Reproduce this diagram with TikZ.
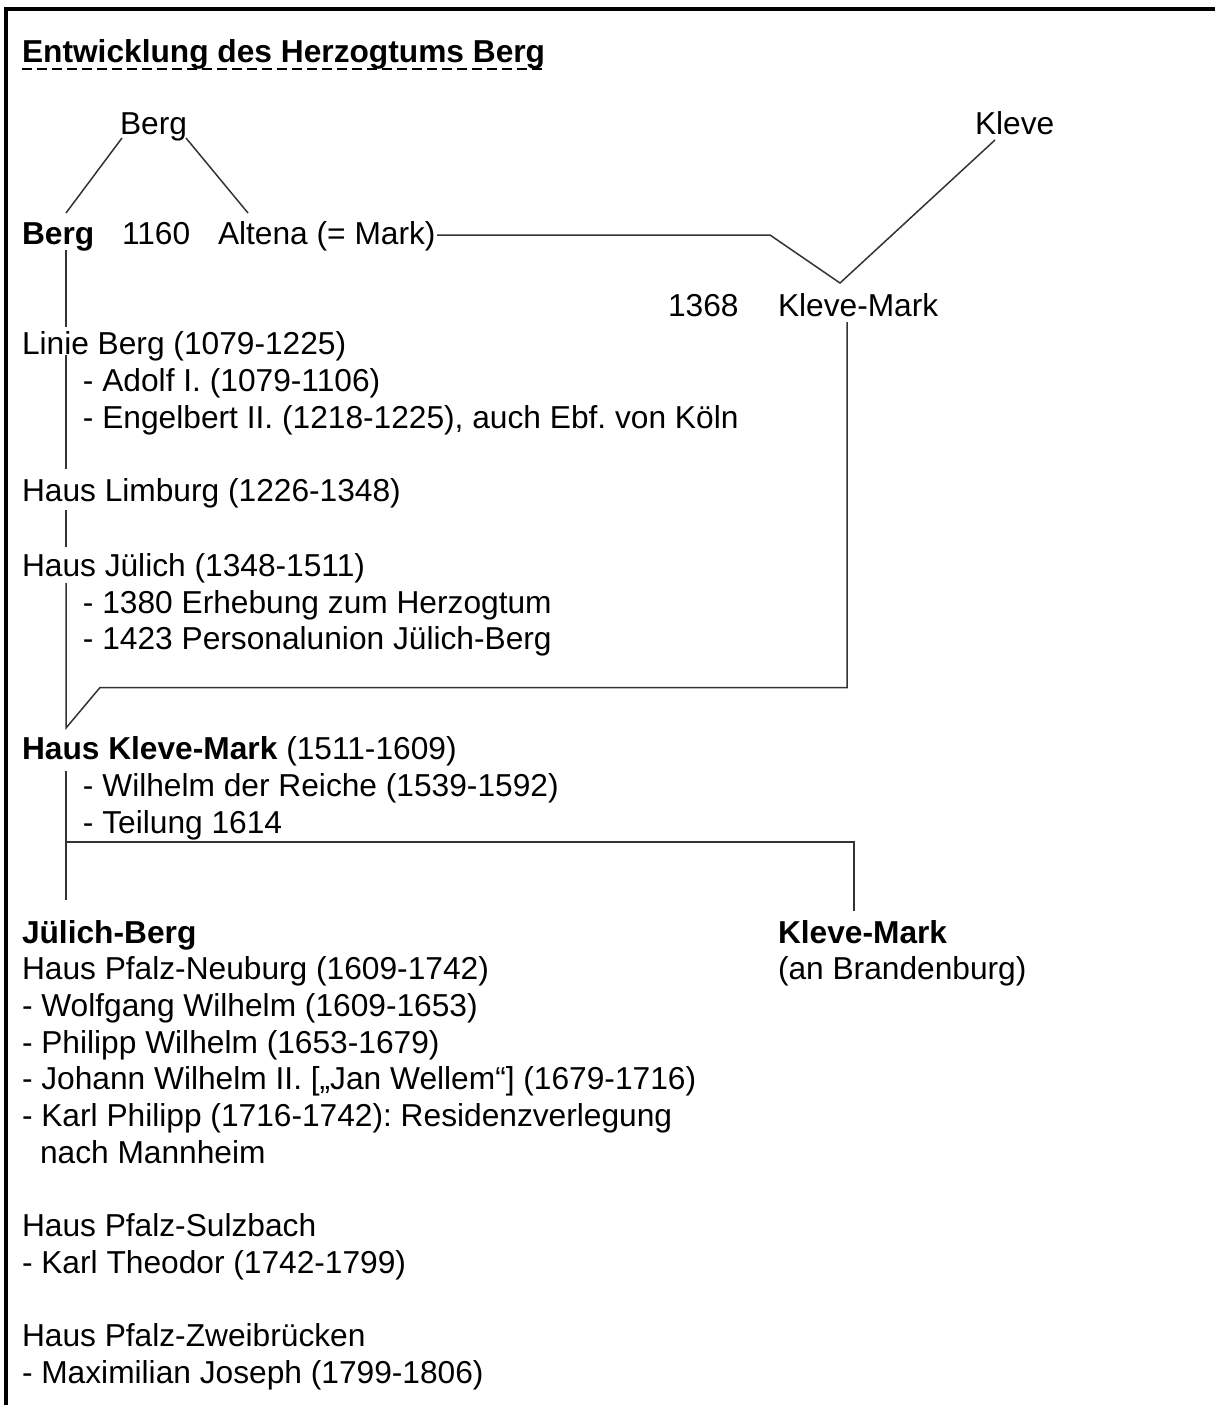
\documentclass[tikz,border=0pt]{standalone}
\usepackage{fontspec}
\setmainfont{Liberation Sans}
\newcommand\myfs{\fontsize{15.85pt}{18.35pt}\selectfont}
\frenchspacing
\begin{document}
\begin{tikzpicture}[x=0.5pt,y=-0.5pt,
  txt/.style={anchor=base west, inner sep=0pt, outer sep=0pt, font=\myfs},
  conn/.style={line width=0.75pt, black!80},
  frame/.style={line width=2pt, line join=miter}]
\useasboundingbox (0,0) rectangle (1215,1405);
\draw[frame] (1215,8.5) -- (6,8.5) -- (6,1405);
% title
\node[txt] (title) at (22,62) {\bfseries Entwicklung des Herzogtums Berg};
\draw[line width=1.2pt, dash pattern=on 5pt off 2.5pt] ([yshift=-3.5pt]title.base west) -- ([yshift=-3.5pt]title.base east);
% top row
\node[txt] (bergtop) at (120,134) {Berg};
\node[txt] (kleve) at (975,134) {Kleve};
\node[txt] (berg) at (22,244) {\bfseries Berg};
\node[txt] (y1160) at (122,244) {1160};
\node[txt] (altena) at (218,244) {Altena (= Mark)};
\node[txt] (y1368) at (668,316) {1368};
\node[txt] (klevemark) at (778,316) {Kleve-Mark};
% left column
\node[txt] (linie) at (22,354) {Linie Berg (1079-1225)};
\node[txt] (adolf) at (83,391) {- Adolf I. (1079-1106)};
\node[txt] (engel) at (83,428) {- Engelbert II. (1218-1225), auch Ebf. von Köln};
\node[txt] (limburg) at (22,501) {Haus Limburg (1226-1348)};
\node[txt] (juelich) at (22,576) {Haus Jülich (1348-1511)};
\node[txt] (j1380) at (83,613) {- 1380 Erhebung zum Herzogtum};
\node[txt] (j1423) at (83,649) {- 1423 Personalunion Jülich-Berg};
\node[txt] (hkm) at (22,759) {\bfseries Haus Kleve-Mark\mdseries{} (1511-1609)};
\node[txt] (wilhelm) at (83,796) {- Wilhelm der Reiche (1539-1592)};
\node[txt] (teilung) at (83,833) {- Teilung 1614};
\node[txt] (jb) at (22,943) {\bfseries Jülich-Berg};
\node[txt] (neuburg) at (22,979) {Haus Pfalz-Neuburg (1609-1742)};
\node[txt] (wolfgang) at (22,1016) {- Wolfgang Wilhelm (1609-1653)};
\node[txt] (philipp) at (22,1053) {- Philipp Wilhelm (1653-1679)};
\node[txt] (johann) at (22,1089) {- Johann Wilhelm II. [„Jan Wellem“] (1679-1716)};
\node[txt] (karl) at (22,1126) {- Karl Philipp (1716-1742): Residenzverlegung};
\node[txt] (nach) at (40,1163) {nach Mannheim};
\node[txt] (sulzbach) at (22,1236) {Haus Pfalz-Sulzbach};
\node[txt] (theodor) at (22,1273) {- Karl Theodor (1742-1799)};
\node[txt] (zwei) at (22,1346) {Haus Pfalz-Zweibrücken};
\node[txt] (max) at (22,1383) {- Maximilian Joseph (1799-1806)};
% right column
\node[txt] (km2) at (778,943) {\bfseries Kleve-Mark};
\node[txt] (brand) at (778,979) {(an Brandenburg)};
% coordinates
\coordinate (a1) at (122,138);
\coordinate (a2) at (66,213);
\coordinate (b1) at (186,138);
\coordinate (b2) at (248,213);
\coordinate (m1) at (437,235);
\coordinate (m2) at (770,235);
\coordinate (v) at (840,283);
\coordinate (k1) at (995,140);
\coordinate (l1) at (66,250);
\coordinate (l2) at (66,327);
\coordinate (l3) at (66,355);
\coordinate (l4) at (66,469);
\coordinate (l5) at (66,510);
\coordinate (l6) at (66,547);
\coordinate (l7) at (66,583);
\coordinate (l8) at (66,728);
\coordinate (d1) at (100,687.5);
\coordinate (r1) at (847,687.5);
\coordinate (r2) at (847,322);
\coordinate (p1) at (66,771);
\coordinate (p2) at (66,900);
\coordinate (h1) at (66,842);
\coordinate (h2) at (854,842);
\coordinate (h3) at (854,911);
% connectors
\draw[conn] (a1) -- (a2);
\draw[conn] (b1) -- (b2);
\draw[conn] (m1) -- (m2) -- (v) -- (k1);
\draw[conn] (l1) -- (l2);
\draw[conn] (l3) -- (l4);
\draw[conn] (l5) -- (l6);
\draw[conn] (l7) -- (l8) -- (d1) -- (r1) -- (r2);
\draw[conn] (p1) -- (p2);
\draw[conn] (h1) -- (h2) -- (h3);
\end{tikzpicture}
\end{document}
